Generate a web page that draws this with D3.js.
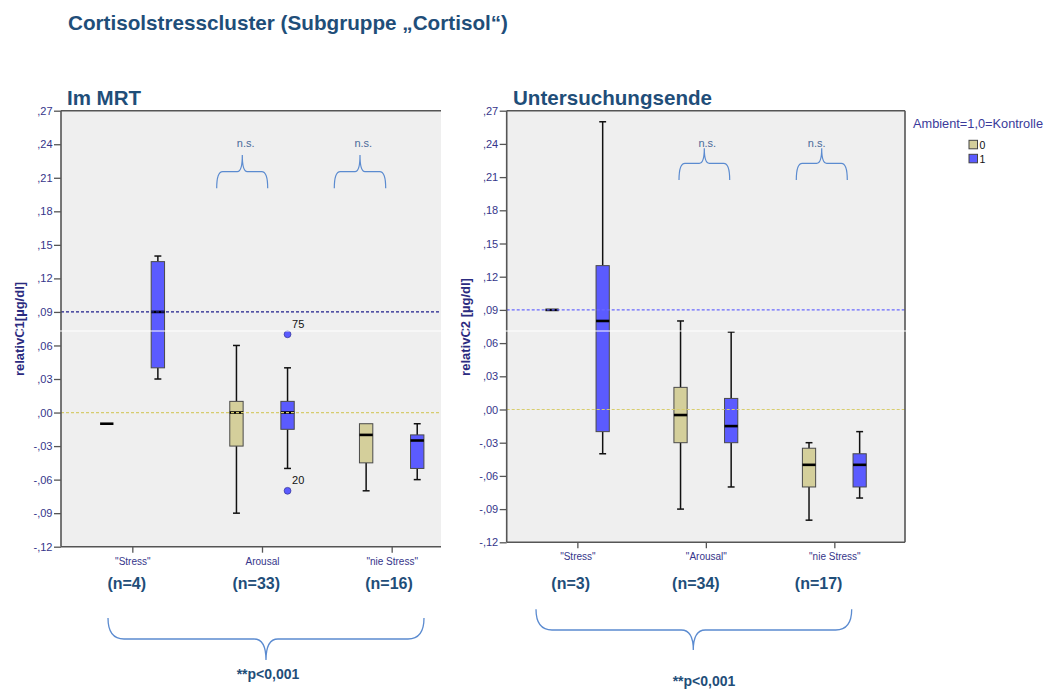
<!DOCTYPE html>
<html>
<head>
<meta charset="utf-8">
<script src="https://cdn.jsdelivr.net/npm/d3@7"></script>
<style>
  html, body { margin: 0; padding: 0; background: #fff; }
  svg { display: block; font-family: Arial, "Liberation Sans", sans-serif; }
</style>
</head>
<body>
<svg id="chart" width="1046" height="690"></svg>
<script>
// ---- data -------------------------------------------------------------
const mrtCategories = ['"Stress"', 'Arousal', '"nie Stress"'];
const endCategories = ['"Stress"', '"Arousal"', '"nie Stress"'];
const groups = ['0', '1'];
const groupColors = ['#d4cf9b', '#5b5bff'];

// five-number summaries per category: [lowWhisker, q1, median, q3, highWhisker]
const mrtGroup0 = [[-0.01, -0.01, -0.01, -0.01, -0.01],
                   [-0.09, -0.03, 0.00, 0.01, 0.06],
                   [-0.07, -0.045, -0.02, -0.01, -0.01]];
const mrtGroup1 = [[0.03, 0.04, 0.09, 0.135, 0.14],
                   [-0.05, -0.015, 0.00, 0.01, 0.04],
                   [-0.06, -0.05, -0.025, -0.02, -0.01]];
const mrtOutliers = [{ cat: 1, group: 1, value: 0.07, label: '75' },
                     { cat: 1, group: 1, value: -0.07, label: '20' }];

const endGroup0 = [[0.09, 0.09, 0.09, 0.09, 0.09],
                   [-0.09, -0.03, -0.005, 0.02, 0.08],
                   [-0.10, -0.07, -0.05, -0.035, -0.03]];
const endGroup1 = [[-0.04, -0.02, 0.08, 0.13, 0.26],
                   [-0.07, -0.03, -0.015, 0.01, 0.07],
                   [-0.08, -0.07, -0.05, -0.04, -0.02]];
const endOutliers = [];

const mrtCounts = ['(n=4)', '(n=33)', '(n=16)'];
const endCounts = ['(n=3)', '(n=34)', '(n=17)'];

const yTicks = [-0.12, -0.09, -0.06, -0.03, 0.00, 0.03, 0.06, 0.09, 0.12, 0.15, 0.18, 0.21, 0.24, 0.27];
const refValues = [0.09, 0.00];

// ---- helpers ----------------------------------------------------------
const svg = d3.select('#chart');
const titleBlue = '#1f4e79';
const axisNavy = '#35358a';
const braceBlue = '#5b8bd0';

function fmtTick(v) {
  const s = Math.abs(v).toFixed(2).replace(/^0/, '').replace('.', ',');
  return (v < -1e-9 ? '-' : '') + s;
}

function bracePath(x1, x2, xt, yEnd, yMid, yTip, r, rt) {
  return `M${x1},${yEnd} Q${x1},${yMid} ${x1 + r},${yMid} L${xt - rt},${yMid} ` +
         `Q${xt},${yMid} ${xt},${yTip} Q${xt},${yMid} ${xt + rt},${yMid} ` +
         `L${x2 - r},${yMid} Q${x2},${yMid} ${x2},${yEnd}`;
}

function drawPanel(cfg) {
  const g = svg.append('g');
  const y = d3.scaleLinear().domain([-0.12, 0.27]).range([cfg.bottom, cfg.top]);
  const x = d3.scalePoint().domain(cfg.categories).range([cfg.left, cfg.scaleRight]).padding(0.55);
  const step = x.step();
  const boxW = step * 0.103;
  const off = step * 0.197;
  const capW = boxW * 0.52;

  // plot background
  g.append('rect').attr('x', cfg.left).attr('y', cfg.top)
    .attr('width', cfg.right - cfg.left).attr('height', cfg.bottom - cfg.top)
    .attr('fill', '#efefef');

  // boxes
  const series = [cfg.group0, cfg.group1];
  series.forEach((stats, gi) => {
    stats.forEach((s, ci) => {
      const cx = x(cfg.categories[ci]) + (gi === 0 ? -off : off);
      const [lo, q1, med, q3, hi] = s;
      const bg = g.append('g');
      if (hi > q3) {
        bg.append('line').attr('x1', cx).attr('x2', cx).attr('y1', y(q3)).attr('y2', y(hi))
          .attr('stroke', '#111').attr('stroke-width', 1.5);
        bg.append('line').attr('x1', cx - capW / 2).attr('x2', cx + capW / 2).attr('y1', y(hi)).attr('y2', y(hi))
          .attr('stroke', '#111').attr('stroke-width', 1.5);
      }
      if (lo < q1) {
        bg.append('line').attr('x1', cx).attr('x2', cx).attr('y1', y(q1)).attr('y2', y(lo))
          .attr('stroke', '#111').attr('stroke-width', 1.5);
        bg.append('line').attr('x1', cx - capW / 2).attr('x2', cx + capW / 2).attr('y1', y(lo)).attr('y2', y(lo))
          .attr('stroke', '#111').attr('stroke-width', 1.5);
      }
      if (q3 > q1) {
        bg.append('rect').attr('x', cx - boxW / 2).attr('y', y(q3))
          .attr('width', boxW).attr('height', y(q1) - y(q3))
          .attr('fill', groupColors[gi]).attr('stroke', '#4a4a4a').attr('stroke-width', 1);
      }
      bg.append('line').attr('x1', cx - boxW / 2).attr('x2', cx + boxW / 2)
        .attr('y1', y(med)).attr('y2', y(med))
        .attr('stroke', '#000').attr('stroke-width', 2.6);
    });
  });

  // outliers
  cfg.outliers.forEach(o => {
    const cx = x(cfg.categories[o.cat]) + (o.group === 0 ? -off : off);
    g.append('circle').attr('cx', cx).attr('cy', y(o.value)).attr('r', 3.4)
      .attr('fill', groupColors[o.group]).attr('stroke', '#3a3aa0').attr('stroke-width', 0.8);
    g.append('text').attr('x', cx + 4.5).attr('y', y(o.value) - (o.value > 0 ? 6.5 : 7))
      .attr('font-size', 11).attr('fill', '#111').text(o.label);
  });

  // reference lines
  refValues.forEach((v, i) => {
    g.append('line').attr('x1', cfg.left).attr('x2', cfg.right)
      .attr('y1', y(v)).attr('y2', y(v))
      .attr('stroke', cfg.refColors[i]).attr('stroke-width', 1.2)
      .attr('stroke-dasharray', '3,2');
  });

  // y axis
  const ya = g.append('g').attr('transform', `translate(${cfg.left},0)`)
    .call(d3.axisLeft(y).tickValues(yTicks).tickFormat(fmtTick).tickSize(cfg.tickLen).tickPadding(1.5));
  ya.select('.domain').remove();
  ya.selectAll('.tick line').attr('stroke', '#555').attr('stroke-width', 1.3);
  ya.selectAll('.tick text').attr('fill', axisNavy).attr('font-size', cfg.tickFont)
    .attr('font-family', 'Arial, "Liberation Sans", sans-serif');

  // x axis
  const xa = g.append('g').attr('transform', `translate(0,${cfg.bottom})`)
    .call(d3.axisBottom(x).tickSize(6).tickPadding(5));
  xa.select('.domain').remove();
  xa.selectAll('.tick line').attr('stroke', '#555').attr('stroke-width', 1.3);
  xa.selectAll('.tick text').attr('fill', axisNavy).attr('font-size', 10)
    .attr('font-family', 'Arial, "Liberation Sans", sans-serif');

  // frame
  const frame = g.append('g').attr('stroke', '#555').attr('stroke-width', 1.6).attr('fill', 'none');
  frame.append('line').attr('x1', cfg.left).attr('x2', cfg.right).attr('y1', cfg.top).attr('y2', cfg.top);
  frame.append('line').attr('x1', cfg.left).attr('x2', cfg.right).attr('y1', cfg.bottom).attr('y2', cfg.bottom);
  frame.append('line').attr('x1', cfg.left).attr('x2', cfg.left).attr('y1', cfg.top).attr('y2', cfg.bottom);
  if (cfg.rightBorder) {
    frame.append('line').attr('x1', cfg.right).attr('x2', cfg.right).attr('y1', cfg.top).attr('y2', cfg.bottom);
  }

  // axis title
  svg.append('text')
    .attr('transform', `translate(${cfg.yTitleX},${cfg.yTitleY}) rotate(-90)`)
    .attr('text-anchor', 'middle').attr('font-weight', 'bold').attr('font-size', 13)
    .attr('fill', '#2b2b80').text(cfg.yTitle);

  // panel title
  svg.append('text').attr('x', cfg.titleX).attr('y', 105)
    .attr('font-weight', 'bold').attr('font-size', 20.5).attr('fill', titleBlue)
    .attr('textLength', cfg.titleLen).attr('lengthAdjust', 'spacingAndGlyphs')
    .text(cfg.title);

  // group sizes
  cfg.counts.forEach((t, i) => {
    svg.append('text').attr('x', x(cfg.categories[i]) + cfg.countDx[i]).attr('y', 589)
      .attr('text-anchor', 'middle').attr('font-weight', 'bold').attr('font-size', 16)
      .attr('fill', titleBlue).text(t);
  });

  // n.s. braces above the category pairs
  cfg.smallBraces.forEach(b => {
    svg.append('path').attr('d', bracePath(b.x1, b.x2, b.xt, b.yEnd, b.yMid, b.yTip, 6, 5))
      .attr('fill', 'none').attr('stroke', braceBlue).attr('stroke-width', 1.2);
    svg.append('text').attr('x', b.tx).attr('y', 147)
      .attr('text-anchor', 'middle').attr('font-size', 11).attr('fill', '#4a6a9a').text('n.s.');
  });

  // overall brace and p-value
  const B = cfg.bigBrace;
  svg.append('path').attr('d', bracePath(B.x1, B.x2, B.xt, B.yEnd, B.yMid, B.yTip, 16, 12))
    .attr('fill', 'none').attr('stroke', braceBlue).attr('stroke-width', 1.3);
  svg.append('text').attr('x', B.tx).attr('y', B.ty)
    .attr('text-anchor', 'middle').attr('font-weight', 'bold').attr('font-size', 14)
    .attr('fill', titleBlue).text('**p<0,001');
}

// main title
svg.append('text').attr('x', 68).attr('y', 30)
  .attr('font-weight', 'bold').attr('font-size', 20.5).attr('fill', titleBlue)
  .attr('textLength', 440).attr('lengthAdjust', 'spacingAndGlyphs')
  .text('Cortisolstresscluster (Subgruppe „Cortisol“)');

drawPanel({
  categories: mrtCategories, group0: mrtGroup0, group1: mrtGroup1, outliers: mrtOutliers,
  left: 61, right: 441, scaleRight: 463, top: 110.7, bottom: 546.7, rightBorder: false,
  tickLen: 7, tickFont: 11, refColors: ['#1f1f8c', '#d6cc6e'],
  yTitle: 'relativC1[µg/dl]', yTitleX: 24, yTitleY: 329,
  title: 'Im MRT', titleX: 67, titleLen: 74,
  counts: mrtCounts, countDx: [-5.6, -5.7, -2.7],
  smallBraces: [
    { x1: 216.7, x2: 267.7, xt: 242.3, yEnd: 188.3, yMid: 171.7, yTip: 155, tx: 245.7 },
    { x1: 334.3, x2: 385.7, xt: 360, yEnd: 188.3, yMid: 171.7, yTip: 155, tx: 363.3 }
  ],
  bigBrace: { x1: 108, x2: 424, xt: 266, yEnd: 618, yMid: 639, yTip: 660, tx: 268, ty: 679 }
});

drawPanel({
  categories: endCategories, group0: endGroup0, group1: endGroup1, outliers: endOutliers,
  left: 506.7, right: 905, scaleRight: 905, top: 110.7, bottom: 542.3, rightBorder: true,
  tickLen: 7, tickFont: 11, refColors: ['#6a6aff', '#d8cd6e'],
  yTitle: 'relativC2 [µg/dl]', yTitleX: 470, yTitleY: 327,
  title: 'Untersuchungsende', titleX: 513, titleLen: 199,
  counts: endCounts, countDx: [-6.7, -10, -15.7],
  smallBraces: [
    { x1: 679, x2: 729.7, xt: 704.3, yEnd: 180, yMid: 163.3, yTip: 148.3, tx: 707.3 },
    { x1: 796.3, x2: 847.3, xt: 821.7, yEnd: 180, yMid: 163.3, yTip: 148.3, tx: 816.7 }
  ],
  bigBrace: { x1: 536, x2: 851.7, xt: 693.3, yEnd: 609.3, yMid: 630, yTip: 650, tx: 704, ty: 686 }
});

// legend
const legend = svg.append('g');
legend.append('text').attr('x', 913).attr('y', 128).attr('font-size', 13)
  .attr('textLength', 130).attr('lengthAdjust', 'spacingAndGlyphs')
  .attr('fill', '#3a3a9a').text('Ambient=1,0=Kontrolle');
groups.forEach((gname, i) => {
  legend.append('rect').attr('x', 969).attr('y', 140.3 + i * 14).attr('width', 8.5).attr('height', 8.5)
    .attr('fill', groupColors[i]).attr('stroke', '#444').attr('stroke-width', 1);
  legend.append('text').attr('x', 979.5).attr('y', 148.7 + i * 14).attr('font-size', 10.5)
    .attr('fill', '#111').text(gname);
});

// thin white seam running across the page
svg.append('line').attr('x1', 0).attr('x2', 1046).attr('y1', 331).attr('y2', 331)
  .attr('stroke', '#fff').attr('stroke-width', 1);
</script>
</body>
</html>
